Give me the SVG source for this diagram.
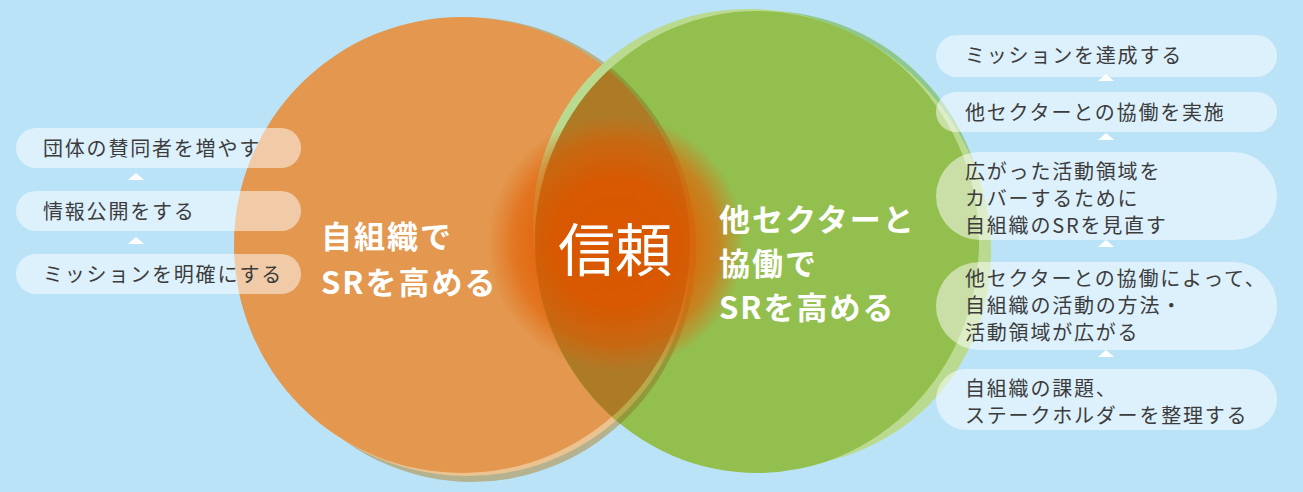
<svg xmlns="http://www.w3.org/2000/svg" width="1303" height="492" viewBox="0 0 1303 492">
<style>
.box{fill:#ffffff;fill-opacity:0.5}
.tri{fill:#ffffff}
.t{font-family:"Noto Sans CJK JP","Noto Sans",sans-serif;font-size:20px;fill:#3c3c3c;letter-spacing:1.8px}
.b{font-family:"Noto Sans CJK JP","Noto Sans",sans-serif;font-size:31px;font-weight:bold;fill:#ffffff;letter-spacing:2px}
.c{font-family:"Noto Sans CJK JP","Noto Sans",sans-serif;font-size:57px;fill:#ffffff}
</style>
<defs>
<clipPath id="clipG"><ellipse cx="757" cy="242" rx="222" ry="231"/></clipPath>
<radialGradient id="glow" cx="616" cy="243" r="128" gradientUnits="userSpaceOnUse">
<stop offset="0" stop-color="#e65c00" stop-opacity="1"/>
<stop offset="0.5" stop-color="#e45c00" stop-opacity="0.95"/>
<stop offset="0.8" stop-color="#e26206" stop-opacity="0.62"/>
<stop offset="0.94" stop-color="#e06a10" stop-opacity="0.22"/>
<stop offset="1" stop-color="#e06a10" stop-opacity="0"/>
</radialGradient>
</defs>
<rect x="0" y="0" width="1303" height="492" fill="#bbe3f8"/>
<g id="circle-left">
<ellipse cx="472" cy="250" rx="224" ry="232" fill="#b5b38f"/>
<ellipse cx="462" cy="250" rx="230" ry="224" transform="rotate(35 462 250)" fill="#ebc391"/>
<ellipse cx="462" cy="245" rx="228" ry="228" fill="#e3974f"/>
</g>
<g id="circle-right">
<ellipse cx="766" cy="240" rx="221" ry="229" fill="#8ec88e"/>
<ellipse cx="762" cy="238" rx="236" ry="222" transform="rotate(45 762 238)" fill="#badb8f"/>
<ellipse cx="757" cy="242" rx="222" ry="231" fill="#93bf4f"/>
</g>
<g id="overlap" clip-path="url(#clipG)">
<ellipse cx="472" cy="250" rx="224" ry="232" fill="#8f9a3a"/>
<ellipse cx="462" cy="250" rx="230" ry="224" transform="rotate(35 462 250)" fill="#b8a94a"/>
<ellipse cx="462" cy="245" rx="228" ry="228" fill="#b3832b"/>
</g>
<g id="trust">
<circle cx="616" cy="243" r="128" fill="url(#glow)"/>
<g clip-path="url(#clipG)"><ellipse cx="462" cy="245" rx="228" ry="228" fill="#803000" fill-opacity="0.1"/></g>
<text class="c" x="615" y="271" text-anchor="middle">信頼</text>
</g>
<g id="label-left">
<text class="b" x="321" y="248">自組織で</text>
<text class="b" x="321" y="294">SRを高める</text>
</g>
<g id="label-right">
<text class="b" x="719" y="231">他セクターと</text>
<text class="b" x="719" y="275">協働で</text>
<text class="b" x="719" y="319">SRを高める</text>
</g>
<g id="left-1"><rect class="box" x="16" y="128" width="285" height="40" rx="20"/><text class="t" x="43" y="156">団体の賛同者を増やす</text></g>
<g id="left-2"><rect class="box" x="16" y="191" width="285" height="40" rx="20"/><text class="t" x="43" y="219">情報公開をする</text></g>
<g id="left-3"><rect class="box" x="16" y="254" width="285" height="40" rx="20"/><text class="t" x="43" y="282">ミッションを明確にする</text></g>
<g id="right-1"><rect class="box" x="936" y="35" width="341" height="42" rx="21"/><text class="t" x="965" y="63">ミッションを達成する</text></g>
<g id="right-2"><rect class="box" x="936" y="92" width="341" height="40" rx="20"/><text class="t" x="965" y="120">他セクターとの協働を実施</text></g>
<g id="right-3"><rect class="box" x="936" y="152" width="341" height="88" rx="44"/><text class="t" x="965" y="179">広がった活動領域を</text><text class="t" x="965" y="206">カバーするために</text><text class="t" x="965" y="233">自組織のSRを見直す</text></g>
<g id="right-4"><rect class="box" x="936" y="262" width="341" height="88" rx="44"/><text class="t" x="965" y="286">他セクターとの協働によって、</text><text class="t" x="965" y="313">自組織の活動の方法・</text><text class="t" x="965" y="340">活動領域が広がる</text></g>
<g id="right-5"><rect class="box" x="936" y="369" width="341" height="61" rx="30.5"/><text class="t" x="965" y="396">自組織の課題、</text><text class="t" x="965" y="423">ステークホルダーを整理する</text></g>
<g id="connectors">
<polygon class="tri" points="128,180 144,180 136,173"/>
<polygon class="tri" points="128,244 144,244 136,237"/>
<polygon class="tri" points="1098,81 1114,81 1106,74"/>
<polygon class="tri" points="1098,140 1114,140 1106,133"/>
<polygon class="tri" points="1098,247 1114,247 1106,240"/>
<polygon class="tri" points="1098,357 1114,357 1106,350"/>
</g>
</svg>
